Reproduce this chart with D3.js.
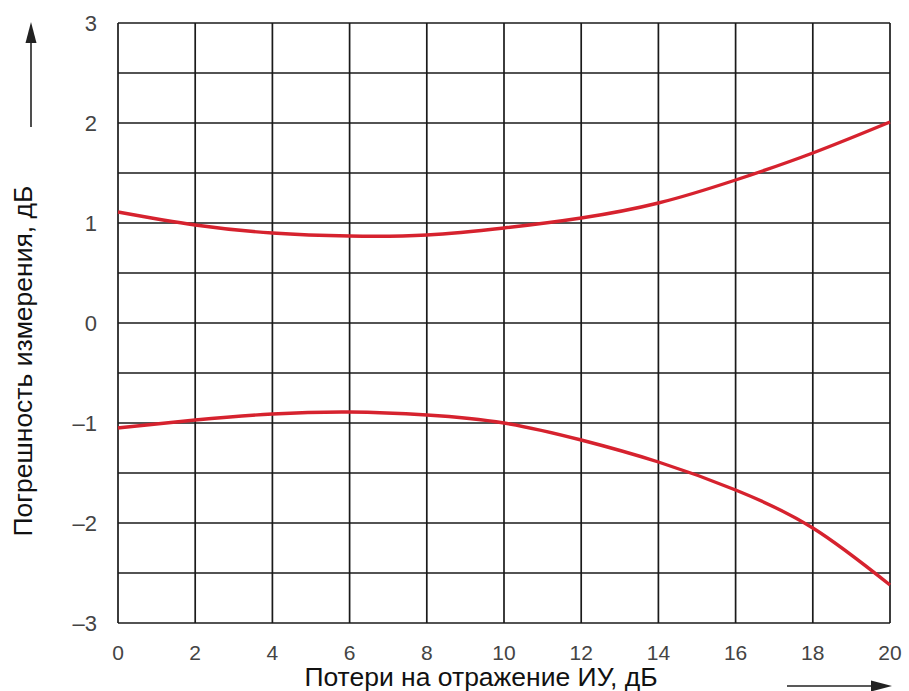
<!DOCTYPE html>
<html>
<head>
<meta charset="utf-8">
<script src="https://cdn.jsdelivr.net/npm/d3@7"></script>
<style>
  body { margin: 0; background: #fff; }
  svg { display: block; font-family: "Liberation Sans", Arial, sans-serif; }
</style>
</head>
<body>
<div id="chart"></div>
<script>
// Return loss of the DUT (dB) vs. measurement error (dB), upper and lower bounds.
const lossDb = [0, 2, 4, 6, 8, 10, 12, 14, 16, 18, 20];
const upperErr = [1.11, 0.98, 0.90, 0.87, 0.88, 0.95, 1.05, 1.20, 1.43, 1.70, 2.01];
const lowerErr = [-1.05, -0.97, -0.91, -0.89, -0.92, -1.00, -1.17, -1.39, -1.67, -2.05, -2.62];
const xTicks = [0, 2, 4, 6, 8, 10, 12, 14, 16, 18, 20];
const yTicks = [-3, -2, -1, 0, 1, 2, 3];
const yGrid = [-3, -2.5, -2, -1.5, -1, -0.5, 0, 0.5, 1, 1.5, 2, 2.5, 3];

const W = 909, H = 691;
// plot frame in px ("top" would clash with window.top)
const PLOT_L = 118, PLOT_R = 890, PLOT_T = 23, PLOT_B = 623;

const x = d3.scaleLinear().domain([0, 20]).range([PLOT_L, PLOT_R]);
const y = d3.scaleLinear().domain([-3, 3]).range([PLOT_B, PLOT_T]);

const svg = d3.select("#chart").append("svg")
    .attr("width", W)
    .attr("height", H);

// Grid
const grid = svg.append("g").attr("stroke", "#1a1a1a").attr("stroke-width", 1.7);
grid.selectAll("line.h").data(yGrid).enter().append("line")
    .attr("class", "h")
    .attr("x1", PLOT_L).attr("x2", PLOT_R)
    .attr("y1", (d) => y(d)).attr("y2", (d) => y(d));
grid.selectAll("line.v").data(xTicks).enter().append("line")
    .attr("class", "v")
    .attr("y1", PLOT_T).attr("y2", PLOT_B)
    .attr("x1", (d) => x(d)).attr("x2", (d) => x(d));

// Curves
const line = d3.line()
    .x((d, i) => x(lossDb[i]))
    .y((d) => y(d))
    .curve(d3.curveNatural);

svg.append("g").selectAll("path")
    .data([upperErr, lowerErr])
    .enter().append("path")
    .attr("d", line)
    .attr("fill", "none")
    .attr("stroke", "#d6222e")
    .attr("stroke-width", 3.4);

// Tick labels
svg.append("g").selectAll("text")
    .data(xTicks).enter().append("text")
    .attr("x", (d) => x(d))
    .attr("y", 660)
    .attr("text-anchor", "middle")
    .attr("font-size", "21px")
    .attr("fill", "#444")
    .text((d) => d);

svg.append("g").selectAll("text")
    .data(yTicks).enter().append("text")
    .attr("x", 97)
    .attr("y", (d) => y(d))
    .attr("dy", "0.36em")
    .attr("text-anchor", "end")
    .attr("font-size", "22px")
    .attr("fill", "#444")
    .text((d) => d < 0 ? "\u2013" + Math.abs(d) : d);

// Axis titles
svg.append("text")
    .attr("x", 481)
    .attr("y", 686)
    .attr("text-anchor", "middle")
    .attr("font-size", "26.5px")
    .attr("fill", "#111")
    .text("Потери на отражение ИУ, дБ");

svg.append("text")
    .attr("transform", "translate(32,361) rotate(-90)")
    .attr("text-anchor", "middle")
    .attr("font-size", "26.5px")
    .attr("fill", "#111")
    .text("Погрешность измерения, дБ");

// Direction arrows (shaft + filled head)
const arrows = svg.append("g").attr("fill", "#222").attr("stroke", "#222");
arrows.append("line")
    .attr("x1", 31).attr("y1", 127).attr("x2", 31).attr("y2", 36)
    .attr("stroke-width", 1.6);
arrows.append("path")
    .attr("d", "M31,22 L36.5,43 L25.5,43 Z")
    .attr("stroke", "none");
arrows.append("line")
    .attr("x1", 787).attr("y1", 686).attr("x2", 878).attr("y2", 686)
    .attr("stroke-width", 1.6);
arrows.append("path")
    .attr("d", "M892,686 L871,680.5 L871,691.5 Z")
    .attr("stroke", "none");
</script>
</body>
</html>
